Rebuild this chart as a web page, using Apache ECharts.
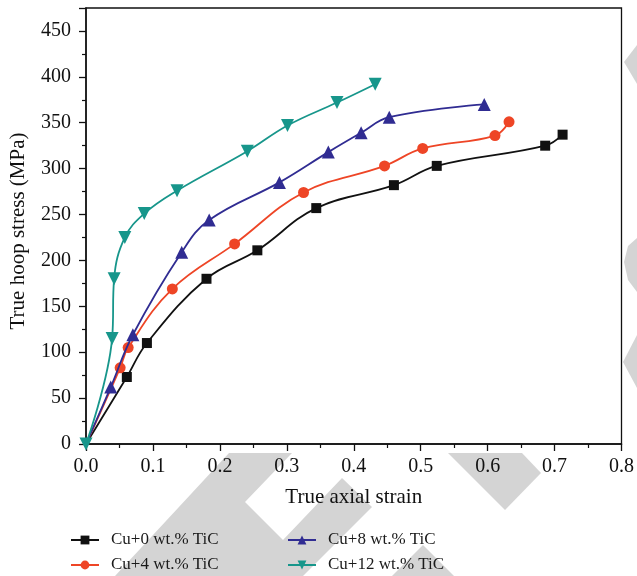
<!DOCTYPE html>
<html>
<head>
<meta charset="utf-8">
<script src="https://cdn.jsdelivr.net/npm/echarts@6/dist/echarts.min.js"></script>
<style>
html,body{margin:0;padding:0;background:#fff;}
#chart{width:637px;height:576px;}
</style>
</head>
<body>
<div id="chart"></div>
<script>
// ---- data ----
var seriesNames = ['Cu+0 wt.% TiC', 'Cu+4 wt.% TiC', 'Cu+8 wt.% TiC', 'Cu+12 wt.% TiC'];

var strain0  = [0, 0.061, 0.091, 0.180, 0.256, 0.344, 0.460, 0.524, 0.686, 0.712];
var stress0  = [0, 73, 110, 180, 211, 257, 282, 303, 325, 337];

var strain4  = [0, 0.051, 0.063, 0.129, 0.222, 0.325, 0.446, 0.503, 0.611, 0.632];
var stress4  = [0, 83, 105, 169, 218, 274, 303, 322, 336, 351];

var strain8  = [0, 0.037, 0.070, 0.143, 0.184, 0.289, 0.362, 0.411, 0.453, 0.595];
var stress8  = [0, 62, 119, 209, 244, 285, 318, 339, 356, 370];

var strain12 = [0, 0.039, 0.042, 0.058, 0.087, 0.136, 0.241, 0.301, 0.375, 0.432];
var stress12 = [0, 115, 180, 225, 251, 276, 319, 347, 372, 392];

var xTicks = ['0.0','0.1','0.2','0.3','0.4','0.5','0.6','0.7','0.8'];
var yTicks = ['0','50','100','150','200','250','300','350','400','450'];

// ---- build ----
var FONT = '"Liberation Serif", "DejaVu Serif", serif';
function pairs(xs, ys, hideFirst) {
  return xs.map(function (x, i) {
    if (i === 0 && hideFirst) return { value: [x, ys[i]], symbol: 'none' };
    return [x, ys[i]];
  });
}
var colors = ['#111111', '#EE4526', '#302C92', '#17968B'];
var symbols = ['rect', 'circle', 'triangle', 'triangle'];
var sizes = [10, 11, 13, 13];
var rotates = [0, 0, 0, 180];
var dataSets = [
  pairs(strain0, stress0, true),
  pairs(strain4, stress4, true),
  pairs(strain8, stress8, true),
  pairs(strain12, stress12, false)
];

var series = dataSets.map(function (d, i) {
  return {
    name: seriesNames[i],
    type: 'line',
    data: d,
    smooth: 0.4,
    symbol: symbols[i],
    symbolSize: sizes[i],
    symbolRotate: rotates[i],
    showAllSymbol: true,
    clip: false,
    lineStyle: { color: colors[i], width: 1.8 },
    itemStyle: { color: colors[i] },
    z: 2 + i
  };
});

var gray = '#d4d4d4';
function poly(pts) {
  return { type: 'polygon', z: -10, silent: true, shape: { points: pts }, style: { fill: gray } };
}

var legendText = { fontFamily: FONT, fontSize: 17, color: '#1a1a1a', lineHeight: 20, padding: [0,0,0,7] };

var chart = echarts.init(document.getElementById('chart'), null, { renderer: 'canvas' });
chart.setOption({
  backgroundColor: '#ffffff',
  animation: false,
  color: colors,
  graphic: [
    poly([[229,453],[292,453],[245,502],[283,540],[342,478],[372,507],[303,576],[115,576]]),
    poly([[448,453],[522,453],[541,473],[505,510]]),
    poly([[423,545],[454,576],[392,576]]),
    poly([[637,45],[624,62],[637,84]]),
    poly([[637,238],[628,246],[624,262],[628,280],[637,292]]),
    poly([[637,335],[623,362],[637,388]])
  ],
  grid: {
    left: 85, right: 15, top: 8, bottom: 132,
    show: true, backgroundColor: '#ffffff',
    borderColor: '#111', borderWidth: 1.3
  },
  legend: [
    {
      data: [seriesNames[0], seriesNames[1]],
      orient: 'vertical', left: 70, top: 530, padding: 0,
      itemWidth: 28, itemHeight: 11, itemGap: 5,
      textStyle: legendText
    },
    {
      data: [seriesNames[2], seriesNames[3]],
      orient: 'vertical', left: 287, top: 530, padding: 0,
      itemWidth: 28, itemHeight: 11, itemGap: 5,
      textStyle: legendText
    }
  ],
  xAxis: {
    type: 'value', min: 0, max: 0.8, interval: 0.1,
    name: 'True axial strain', nameLocation: 'middle', nameGap: 43,
    nameTextStyle: { fontFamily: FONT, fontSize: 21, color: '#111' },
    axisLine: { show: true, lineStyle: { color: '#111', width: 1.5 } },
    axisTick: { show: true, inside: false, length: 7, lineStyle: { color: '#111', width: 1.3 } },
    minorTick: { show: true, splitNumber: 2, length: 4, lineStyle: { color: '#111', width: 1.2 } },
    splitLine: { show: false },
    axisLabel: {
      fontFamily: FONT, fontSize: 20, color: '#111', margin: 13,
      formatter: function (v) { return xTicks[Math.round(v * 10)]; }
    }
  },
  yAxis: {
    type: 'value', min: 0, max: 475, interval: 50,
    name: 'True hoop stress (MPa)', nameLocation: 'middle', nameGap: 57,
    nameTextStyle: { fontFamily: FONT, fontSize: 21, color: '#111', padding: [0, 10, 0, 0] },
    axisLine: { show: true, lineStyle: { color: '#111', width: 1.5 } },
    axisTick: { show: true, inside: false, length: 7, lineStyle: { color: '#111', width: 1.3 } },
    minorTick: { show: true, splitNumber: 2, length: 4, lineStyle: { color: '#111', width: 1.2 } },
    splitLine: { show: false },
    axisLabel: {
      fontFamily: FONT, fontSize: 20, color: '#111', margin: 15, showMaxLabel: false,
      formatter: function (v) { var i = Math.round(v / 50); return (v % 50 === 0 && yTicks[i] !== undefined) ? yTicks[i] : ''; }
    }
  },
  series: series
});
</script>
</body>
</html>
